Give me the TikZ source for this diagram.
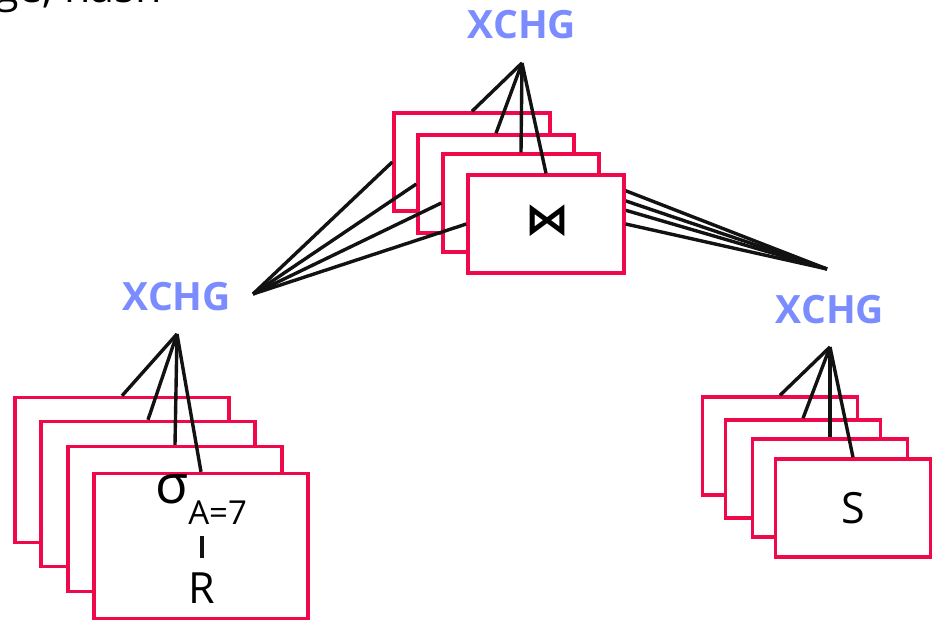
\documentclass[tikz,border=0pt]{standalone}
\usepackage{fontspec}
\setmainfont{Open Sans}
\newfontfamily\symfont{DejaVu Sans}
\definecolor{opred}{HTML}{F0094A}
\definecolor{xchgblue}{HTML}{7B8CFF}
\tikzset{
    opbox/.style={draw=opred,fill=white,line width=3.4pt,inner sep=0pt},
    xchg/.style={text=xchgblue,inner sep=0pt,
        font=\fontsize{39}{39}\selectfont\bfseries},
    wire/.style={line width=3.4pt,draw=black!93},
    optext/.style={inner sep=0pt,font=\fontsize{43}{43}\selectfont}
}

\begin{document}
\begin{tikzpicture}[x=1pt,y=-1pt]
        \useasboundingbox (0,0) rectangle (934,620);
        \node[optext,anchor=base west] (cut) at (-5,3) {ge, hash};
        % exchange operators and the points their wires leave from
        \node[xchg] (xtop) at (522,25) {XCHG};
        \node[xchg] (xleft) at (177,297) {XCHG};
        \node[xchg] (xright) at (830,310) {XCHG};
        \coordinate (atop) at (522,63);
        \coordinate (aleft) at (177,334);
        \coordinate (aright) at (830,347);
        \coordinate (jleft) at (253,294);
        \coordinate (jright) at (827,269);
        % join instances
        \foreach \i/\c in {1/{472,162},2/{496,184},3/{521,203},4/{546,224}}{
            \node[opbox,minimum width=156pt,minimum height=98pt] (j\i) at (\c) {};
            \draw[wire] (atop) -- (j\i.north);
            \draw[wire] (jleft) -- (j\i.west);
            \draw[wire] (jright) -- (j\i.east);
        }
        \node[inner sep=0pt,font=\symfont\bfseries\fontsize{44}{44}\selectfont]
            (join) at (547.5,220.5) {⋈};
        % selections on R
        \foreach \i/\c in {1/{122,470},2/{148,494},3/{175,519},4/{201,546}}{
            \node[opbox,minimum width=214pt,minimum height=145pt] (r\i) at (\c) {};
            \draw[wire] (aleft) -- (r\i.north);
        }
        \node[optext,anchor=base west] (sel) at (155,503)
            {{\fontsize{54}{54}\selectfont σ}\raisebox{-21pt}{\fontsize{33}{33}\selectfont A=7}};
        \node[optext,anchor=base] (rel) at (202,603) {R};
        \draw[wire,shorten <=12pt,shorten >=14pt] (rel.north |- sel.south) -- (rel.north);
        % scans of S
        \foreach \i/\c in {1/{780,446},2/{803,469},3/{830,488},4/{853,508}}{
            \node[opbox,minimum width=155pt,minimum height=98pt] (s\i) at (\c) {};
            \draw[wire] (aright) -- (s\i.north);
        }
        \node[optext,anchor=base] (rels) at (853,523) {S};
\end{tikzpicture}
\end{document}
